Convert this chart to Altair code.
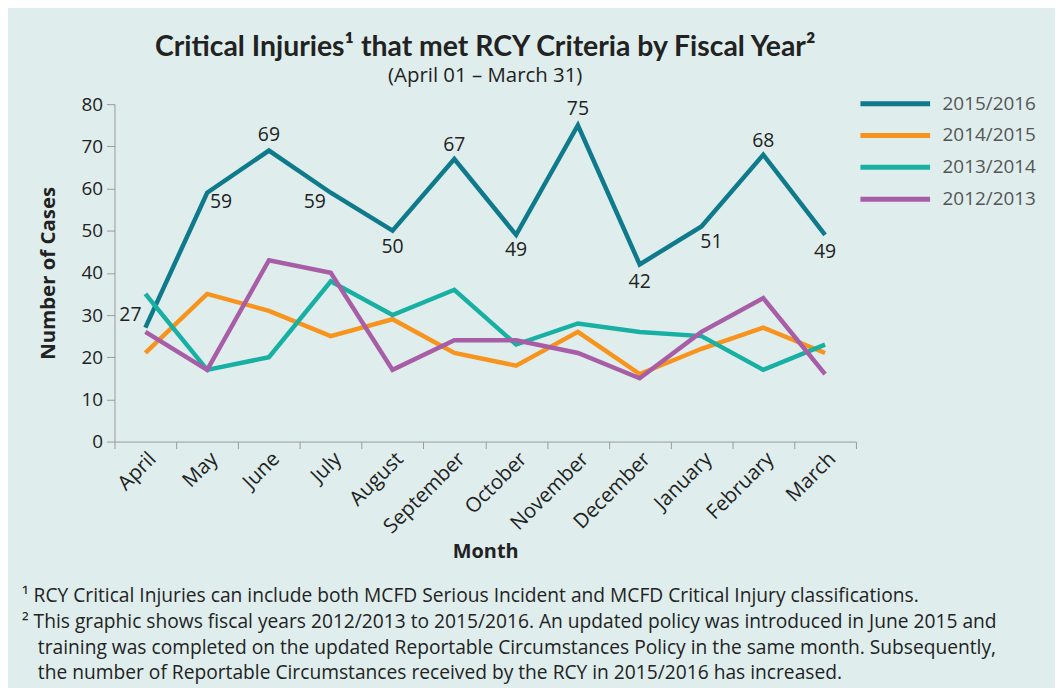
import altair as alt
import pandas as pd

months = ["April", "May", "June", "July", "August", "September", "October",
          "November", "December", "January", "February", "March"]
series_names = ["2015/2016", "2014/2015", "2013/2014", "2012/2013"]
v_2015_2016 = [27, 59, 69, 59, 50, 67, 49, 75, 42, 51, 68, 49]
v_2014_2015 = [21, 35, 31, 25, 29, 21, 18, 26, 16, 22, 27, 21]
v_2013_2014 = [35, 17, 20, 38, 30, 36, 23, 28, 26, 25, 17, 23]
v_2012_2013 = [26, 17, 43, 40, 17, 24, 24, 21, 15, 26, 34, 16]
colors = ["#0e7a8b", "#f7941d", "#17b0a3", "#a85ea6"]

footnotes = [
    "\u00b9 RCY Critical Injuries can include both MCFD Serious Incident and MCFD Critical Injury classifications.",
    "\u00b2 This graphic shows fiscal years 2012/2013 to 2015/2016. An updated policy was introduced in June 2015 and",
    "training was completed on the updated Reportable Circumstances Policy in the same month. Subsequently,",
    "the number of Reportable Circumstances received by the RCY in 2015/2016 has increased.",
]

rows = []
for name, vals in zip(series_names, [v_2015_2016, v_2014_2015, v_2013_2014, v_2012_2013]):
    for m, v in zip(months, vals):
        rows.append({"Month": m, "Year": name, "Cases": v})
df = pd.DataFrame(rows)
top = pd.DataFrame({"Month": months, "Cases": v_2015_2016})

# label placement style (dx, dy) per month for the 2015/2016 value labels
label_style = {
    "April": (-15, -13), "May": (14, 9), "June": (0, -16), "July": (-16, 9),
    "August": (0, 16), "September": (0, -14), "October": (0, 15),
    "November": (0, -16), "December": (0, 18), "January": (10, 16),
    "February": (0, -14), "March": (0, 17),
}

FONT = "Open Sans"
TFONT = "Lato"

x_enc = alt.X("Month:N", sort=months, title="Month",
              scale=alt.Scale(type="band", paddingInner=0, paddingOuter=0),
              axis=alt.Axis(labelAngle=315, tickBand="extent",
                            labelFontSize=20.5, labelFont=FONT, labelColor="#222",
                            titleFontSize=20, titleFont=FONT, titleFontWeight="bold",
                            titleColor="#222", domainColor="#999", tickColor="#999",
                            tickSize=7, labelPadding=0, titlePadding=4,
                            labelAlign="right", labelBaseline="top"))
y_enc = alt.Y("Cases:Q", title="Number of Cases",
              scale=alt.Scale(domain=[0, 80], nice=False),
              axis=alt.Axis(values=list(range(0, 81, 10)), grid=False,
                            labelFontSize=19, labelFont=FONT, labelColor="#222",
                            titleFontSize=20.5, titleFont=FONT, titleFontWeight="bold",
                            titleColor="#222", domainColor="#999", tickColor="#999",
                            tickSize=8, labelPadding=4, titlePadding=23))

lines = alt.Chart(df).mark_line(strokeWidth=4.5, strokeJoin="miter").encode(
    x=x_enc, y=y_enc,
    color=alt.Color("Year:N", sort=series_names,
                    scale=alt.Scale(domain=series_names, range=colors),
                    legend=alt.Legend(orient="none", legendX=775, legendY=-10, title=None,
                                      symbolType="M-5,0H5", symbolSize=196,
                                      symbolStrokeWidth=5, labelFontSize=19,
                                      labelFont=FONT, labelColor="#555",
                                      labelOffset=38, rowPadding=11, padding=0)),
    order=alt.Order("Year:N", sort="descending"),
)

layers = [lines]
groups = {}
for m, off in label_style.items():
    groups.setdefault(off, []).append(m)
for (dx, dy), ms in groups.items():
    layers.append(
        alt.Chart(top).transform_filter(alt.FieldOneOfPredicate(field="Month", oneOf=ms))
        .mark_text(dx=dx, dy=dy, fontSize=19.5, font=FONT, color="#222")
        .encode(x=alt.X("Month:N", sort=months), y="Cases:Q", text="Cases:Q")
    )

fn_x = [-93, -93, -77, -77]
fn_y = [494, 520, 546, 572]
for t, fx, fy in zip(footnotes, fn_x, fn_y):
    layers.append(
        alt.Chart(pd.DataFrame({"t": [t]})).mark_text(
            align="left", baseline="middle", fontSize=19.3, font=FONT, color="#222")
        .encode(x=alt.value(fx), y=alt.value(fy), text="t:N")
    )

chart = alt.layer(*layers).properties(
    width=745, height=339,
    title=alt.TitleParams(
        "Critical Injuries\u00b9 that met RCY Criteria by Fiscal Year\u00b2",
        subtitle="(April 01 \u2013 March 31)",
        font=TFONT, fontSize=28.5, fontWeight="bold", color="#222",
        subtitleFont=FONT, subtitleFontSize=20.5, subtitleColor="#222",
        subtitlePadding=4, offset=8, anchor="middle"),
    autosize=alt.AutoSizeParams(type="none"),
    padding={"left": 107, "top": 95, "right": 200, "bottom": 246},
    background="#dfeeed",
).configure_view(stroke=None)

chart.save("out.html", embed_options={"renderer": "svg", "actions": False})
